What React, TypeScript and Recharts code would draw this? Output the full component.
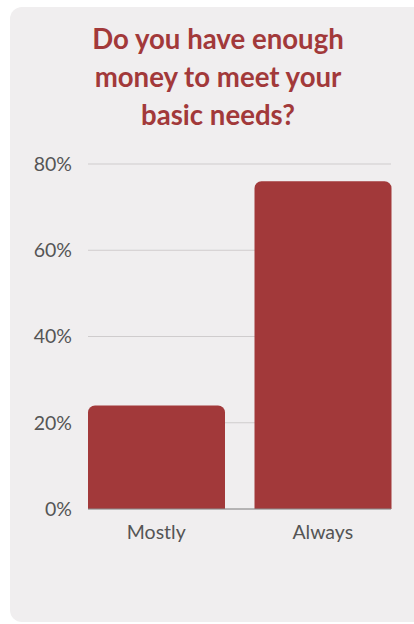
import { Bar, BarChart, CartesianGrid, XAxis, YAxis } from "recharts";

const categories = ["Mostly", "Always"];
const shares = [24, 76];
const yTicks = [0, 20, 40, 60, 80];

const RED = "#a2393a";
const FONT = "Lato, 'Open Sans', sans-serif";

const data = categories.map((c, i) => ({ answer: c, share: shares[i] }));

export default function App() {
  return (
    <div
      style={{
        position: "absolute",
        left: 10,
        top: 7,
        width: 404,
        height: 615,
        background: "#f0eeef",
        borderRadius: "12px 0 0 12px",
        fontFamily: FONT,
      }}
    >
      <div
        style={{
          position: "absolute",
          left: 0,
          top: 13,
          width: 416,
          textAlign: "center",
          color: RED,
          fontWeight: 700,
          fontSize: 27.6,
          lineHeight: "38px",
        }}
      >
        Do you have enough
        <br />
        money to meet your
        <br />
        basic needs?
      </div>
      <div style={{ position: "absolute", left: 0, top: 143 }}>
        <BarChart
          width={404}
          height={400}
          data={data}
          margin={{ top: 14, right: 23, bottom: 11, left: 18 }}
          barCategoryGap={15}
        >
          <CartesianGrid vertical={false} stroke="#cfcccd" />
          <XAxis
            dataKey="answer"
            height={30}
            padding={{ left: -15, right: -15 }}
            tickLine={false}
            axisLine={{ stroke: "#8a8a8a" }}
            tickMargin={10}
            tick={{ fontSize: 19.5, fill: "#555", fontFamily: FONT }}
          />
          <YAxis
            width={60}
            domain={[0, 80]}
            ticks={yTicks}
            tickFormatter={(v) => `${v}%`}
            tickLine={false}
            axisLine={false}
            tickMargin={10}
            tick={{ fontSize: 19.5, fill: "#555", fontFamily: FONT }}
          />
          <Bar dataKey="share" fill={RED} radius={[7, 7, 0, 0]} isAnimationActive={false} />
        </BarChart>
      </div>
    </div>
  );
}
